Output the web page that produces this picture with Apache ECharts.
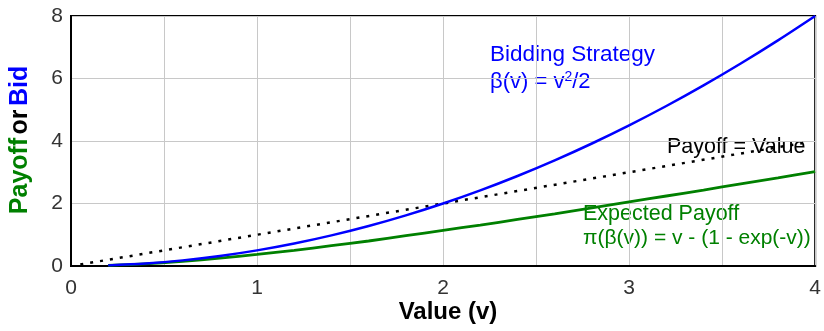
<!DOCTYPE html>
<html><head><meta charset="utf-8">
<script src="https://cdn.jsdelivr.net/npm/echarts@6/dist/echarts.min.js"></script>
<style>html,body{margin:0;padding:0;background:#fff}#c{width:824px;height:331px}</style>
</head><body><div id="c"></div>
<script>
const vValues = [0.2,0.4,0.6,0.8,1.0,1.2,1.4,1.6,1.8,2.0,2.2,2.4,2.6,2.8,3.0,3.2,3.4,3.6,3.8,4.0];
const bidValues = [0.02,0.08,0.18,0.32,0.5,0.72,0.98,1.28,1.62,2.0,2.42,2.88,3.38,3.92,4.5,5.12,5.78,6.48,7.22,8.0];
const payoffValues = [0.02,0.07,0.15,0.25,0.37,0.50,0.65,0.80,0.97,1.14,1.31,1.49,1.67,1.86,2.05,2.24,2.43,2.63,2.82,3.02];
const diagV = [0.05,3.95];
const diagY = [0.05,3.95];
const xTicks = [0,1,2,3,4];

const chart = echarts.init(document.getElementById('c'));
const F = 'Liberation Sans, Arial, sans-serif';
chart.setOption({
  animation:false,
  grid:{left:71,top:16,right:6,bottom:65,show:true,borderColor:'#000',borderWidth:2},
  xAxis:{type:'value',min:0,max:4,interval:0.5,
    axisLine:{show:true,lineStyle:{color:'#000',width:2}},axisTick:{show:false},
    splitLine:{show:true,lineStyle:{color:'#c8c8c8',width:1}},
    axisLabel:{color:'#333',fontFamily:F,fontSize:21,margin:12,
      formatter:v=>xTicks.includes(v)?String(v):''}},
  yAxis:{type:'value',min:0,max:8,interval:2,
    axisLine:{show:true,lineStyle:{color:'#000',width:2}},axisTick:{show:false},
    splitLine:{show:true,lineStyle:{color:'#c8c8c8',width:1}},
    axisLabel:{color:'#333',fontFamily:F,fontSize:21,margin:8}},
  series:[
    {type:'line',data:diagV.map((v,i)=>[v,diagY[i]]),symbol:'none',z:2,
      lineStyle:{color:'#000',width:2.5,type:[3,7]}},
    {type:'line',data:vValues.map((v,i)=>[v,payoffValues[i]]),symbol:'none',smooth:0.3,z:3,
      lineStyle:{color:'#008000',width:2.8}},
    {type:'line',data:vValues.map((v,i)=>[v,bidValues[i]]),symbol:'none',smooth:0.3,z:4,
      lineStyle:{color:'#0000ff',width:2.5}}
  ],
  graphic:[
    {type:'text',left:490,top:43,style:{text:'Bidding Strategy',fill:'#0000ff',font:'22.5px '+F}},
    {type:'text',left:490,top:70,style:{text:'β(v) = v{s|2}/2',fill:'#0000ff',font:'22px '+F,
      rich:{s:{fontSize:14,verticalAlign:'top',fill:'#0000ff',fontFamily:F,padding:[0,0,10,0]}}}},
    {type:'text',left:667,top:136,style:{text:'Payoff = Value',fill:'#000',font:'21.5px '+F}},
    {type:'text',left:583,top:203,style:{text:'Expected Payoff',fill:'#008000',font:'21.5px '+F}},
    {type:'text',left:583,top:228,style:{text:'π(β(v)) = v - (1 - exp(-v))',fill:'#008000',font:'21px '+F}},
    {type:'text',x:448,y:312,style:{text:'Value (v)',fill:'#000',font:'bold 24px '+F,align:'center',verticalAlign:'middle'}},
    {type:'text',x:20,y:140,rotation:Math.PI/2,style:{
      text:'{g|Payoff} {k|or} {b|Bid}',align:'center',verticalAlign:'middle',
      rich:{g:{fill:'#008000',font:'bold 25px '+F},k:{fill:'#000',font:'bold 25px '+F},b:{fill:'#0000ff',font:'bold 25px '+F}}}}
  ]
});
</script></body></html>
